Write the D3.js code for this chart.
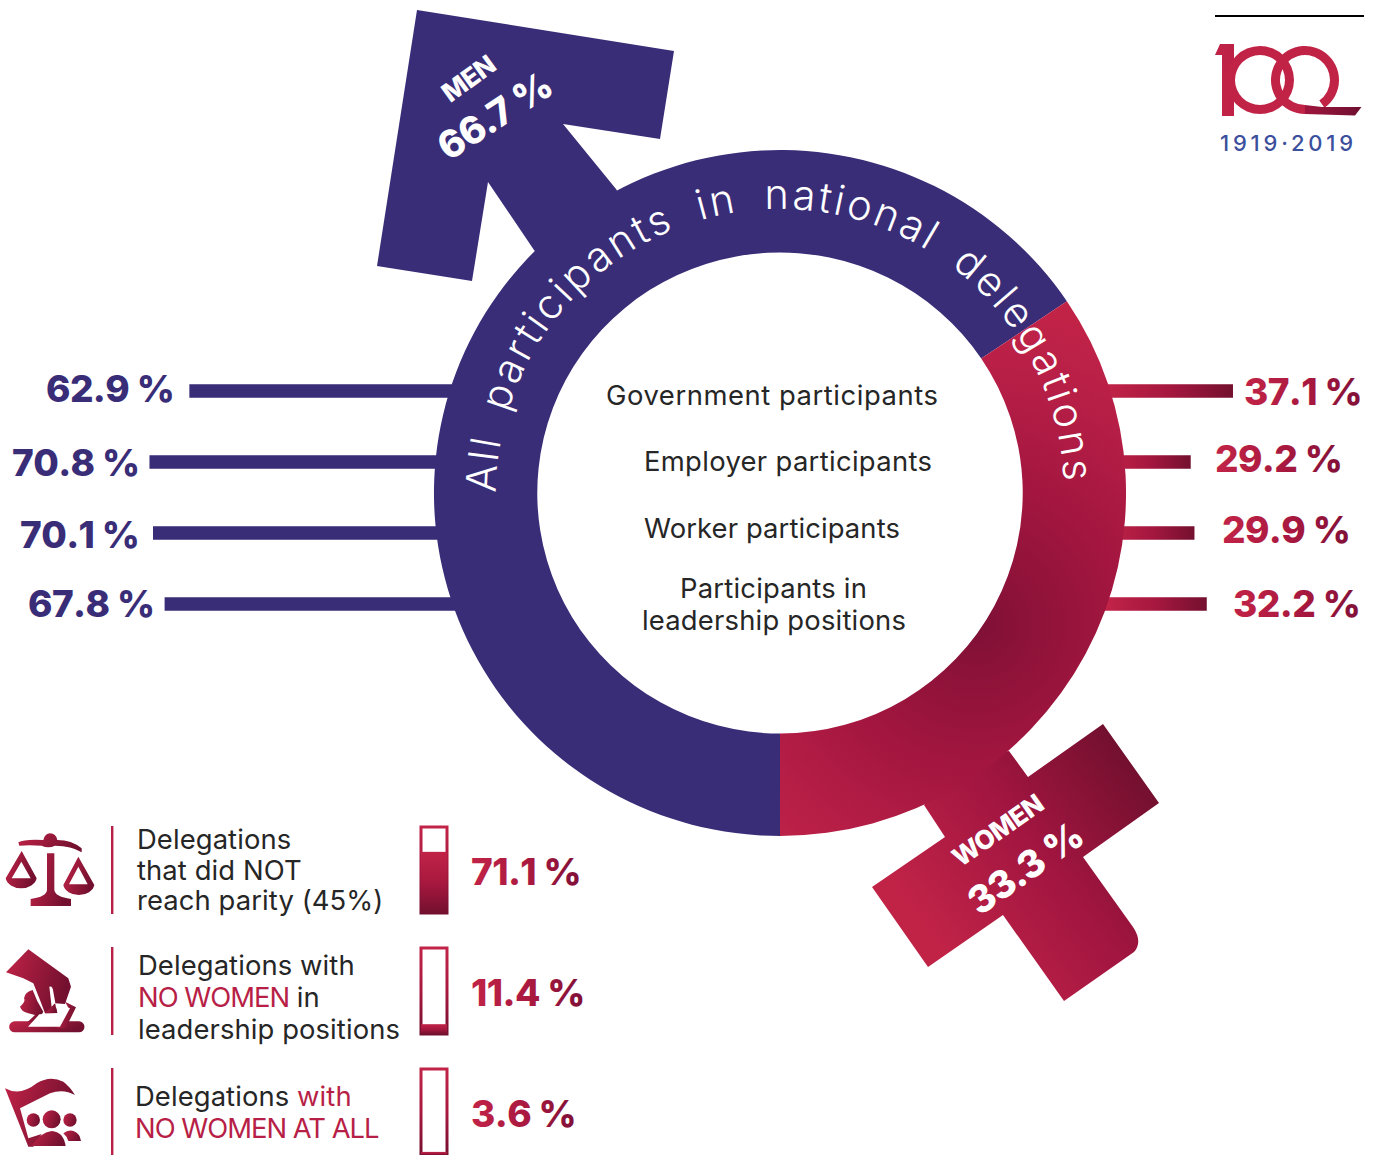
<!DOCTYPE html>
<html>
<head>
<meta charset="utf-8">
<script src="https://cdn.jsdelivr.net/npm/d3@7"></script>
<style>
  html, body { margin: 0; padding: 0; background: #fff; }
  text { font-family: Inter, "Open Sans", sans-serif; }
  .pct { font-weight: 800; font-size: 37px; letter-spacing: -0.6px; font-kerning: none; }
  .lbl { font-size: 27.4px; fill: #262626; letter-spacing: 0.1px; }
</style>
</head>
<body>
<svg id="chart" width="1386" height="1155"></svg>
<script>
// Chart values
const overallLabels = ["MEN", "WOMEN"];
const overallShares = [66.7, 33.3];
const categories = [
  "Government participants",
  "Employer participants",
  "Worker participants",
  "Participants in leadership positions"
];
const menShares = [62.9, 70.8, 70.1, 67.8];
const womenShares = [37.1, 29.2, 29.9, 32.2];
const ringTitle = "All participants in national delegations";
const delegationLabels = ["not parity", "no women leaders", "no women"];
const delegationShares = [71.1, 11.4, 3.6];

// Layout
const navy = "#3a2d78";
const light = "#c12347";
const dark = "#74102f";
const cx = 780, cy = 493, rOuter = 345, rInner = 242;
const rad = (d) => (d * Math.PI) / 180;

const svg = d3.select("#chart");
const defs = svg.append("defs");

function linearGrad(id, x1, y1, x2, y2, stops, units) {
  const g = defs.append("linearGradient").attr("id", id)
    .attr("gradientUnits", units || "userSpaceOnUse")
    .attr("x1", x1).attr("y1", y1).attr("x2", x2).attr("y2", y2);
  stops.forEach((s) => g.append("stop").attr("offset", s[0]).attr("stop-color", s[1]));
}
linearGrad("crossGrad", 925, 930, 1135, 770, [[0, light], [0.55, "#a01540"], [1, dark]]);
linearGrad("textGrad", 0, 0, 1, 0, [[0, light], [0.55, "#a8183f"], [1, "#801038"]], "objectBoundingBox");
linearGrad("iconGrad", 0, 0, 1, 0.3, [[0, light], [1, dark]], "objectBoundingBox");
linearGrad("miniGrad", 0, 0, 0, 1, [[0, light], [0.5, "#a8183f"], [1, dark]], "objectBoundingBox");
linearGrad("logoGrad", 1225, 90, 1360, 70, [[0, light], [0.5, "#a5173f"], [1, "#6b0f30"]]);

const ringGrad = defs.append("radialGradient").attr("id", "ringGrad")
  .attr("gradientUnits", "userSpaceOnUse")
  .attr("cx", 975 - cx).attr("cy", 625 - cy).attr("r", 320);
[[0, "#7e1036"], [0.15, "#8c1239"], [0.45, "#a3163f"], [0.8, "#b81f47"], [1, light]].forEach((s) =>
  ringGrad.append("stop").attr("offset", s[0]).attr("stop-color", s[1]));

// Horizontal bars, they start behind the ring
const rowY = d3.scalePoint().domain(categories).range([391, 604]);
const xMen = d3.scaleLinear().domain([0, 100]).range([507, 2]);
const xWomen = d3.scaleLinear().domain([0, 100]).range([1034.5, 1569.5]);
const barH = 13.5;

svg.selectAll(".men-bar").data(categories).enter().append("rect")
  .attr("class", "men-bar")
  .attr("x", (d, i) => xMen(menShares[i]))
  .attr("y", (d) => rowY(d) - barH / 2)
  .attr("width", (d, i) => xMen(0) - xMen(menShares[i]))
  .attr("height", barH)
  .attr("fill", navy);

categories.forEach((d, i) =>
  linearGrad("wbar" + i, 1108, 0, xWomen(womenShares[i]), 0, [[0, light], [0.5, "#a5173f"], [1, dark]]));

svg.selectAll(".women-bar").data(categories).enter().append("rect")
  .attr("class", "women-bar")
  .attr("x", xWomen(0))
  .attr("y", (d) => rowY(d) - barH / 2)
  .attr("width", (d, i) => xWomen(womenShares[i]) - xWomen(0))
  .attr("height", barH)
  .attr("fill", (d, i) => `url(#wbar${i})`);

// Percent labels next to the bars
const menLabelX = [46, 12, 20, 28];
const menLabelY = [402, 476, 548, 617];
const womenLabelX = [1244, 1215, 1222, 1233];
const womenLabelY = [405, 472, 543, 617];

svg.selectAll(".men-pct").data(menShares).enter().append("text")
  .attr("class", "pct men-pct")
  .attr("x", (d, i) => menLabelX[i])
  .attr("y", (d, i) => menLabelY[i])
  .attr("fill", navy)
  .text((d) => d.toFixed(1) + " %");

svg.selectAll(".women-pct").data(womenShares).enter().append("text")
  .attr("class", "pct women-pct")
  .attr("x", (d, i) => womenLabelX[i])
  .attr("y", (d, i) => womenLabelY[i])
  .attr("fill", "url(#textGrad)")
  .text((d) => d.toFixed(1) + " %");

// Male arrow and female cross
svg.append("path").attr("fill", navy)
  .attr("d", "M417 10L674 51L660 139L563 124L616 189L640 230L560 280L534 250L488 182L472 281L377 266Z");
svg.append("path").attr("fill", "url(#crossGrad)")
  .attr("d", "M1009 751L1028 777L1103 724L1159 803L1083 857L1133 927Q1143 942 1134 952L1064 1001L1003 915L928 967L872 887L945 837L924 805L960 760Z");

// The ring. On the picture the split sits a little past a true 66.7 %,
// so the angle scale has a stop there.
const angle = d3.scaleLinear()
  .domain([0, overallShares[0], 100])
  .range([rad(180), rad(416), rad(540)]);
const arc = d3.arc().innerRadius(rInner).outerRadius(rOuter);
let acc = 0;
const slices = overallShares.map((v) => {
  const s = { startAngle: angle(acc), endAngle: angle(acc + v) };
  acc += v;
  return s;
});
// slightly wider than tall, like the reference
const ring = svg.append("g").attr("transform", `translate(${cx},${cy}) scale(1.003,0.994)`);
ring.selectAll("path").data(slices).enter().append("path")
  .attr("d", arc)
  .attr("fill", (d, i) => (i === 0 ? navy : "url(#ringGrad)"));

// Ring title on a half circle
const rText = 284;
defs.append("path").attr("id", "titleArc")
  .attr("d", `M${cx - rText},${cy} A${rText},${rText} 0 0 1 ${cx + rText},${cy}`);
svg.append("text")
  .attr("fill", "#fff")
  .style("font-size", "41.5px")
  .style("font-weight", 300)
  .style("letter-spacing", "2.8px")
  .style("word-spacing", "11px")
  .append("textPath").attr("href", "#titleArc").attr("startOffset", 0)
  .text(ringTitle);

// Category names inside the ring: text, left edge, baseline, width
const centerLines = [
  ["Government participants", 606, 405, 332],
  ["Employer participants", 644, 471, 288],
  ["Worker participants", 644, 538, 256],
  ["Participants in", 680, 598, 187],
  ["leadership positions", 642, 630, 264]
];
svg.selectAll(".center").data(centerLines).enter().append("text")
  .attr("class", "lbl center")
  .attr("x", (d) => d[1]).attr("y", (d) => d[2])
  .attr("textLength", (d) => d[3])
  .text((d) => d[0]);

// Overall shares on the arrow and cross
function rotated(txt, x, y, a, size) {
  svg.append("text")
    .attr("transform", `translate(${x},${y}) rotate(${a})`)
    .attr("text-anchor", "middle")
    .attr("fill", "#fff")
    .style("font-weight", 800)
    .style("font-size", size + "px")
    .style("letter-spacing", "-0.6px")
    .text(txt);
}
rotated(overallLabels[0], 474, 86, -36, 26);
rotated(overallShares[0].toFixed(1) + " %", 502, 127, -33, 38);
rotated(overallLabels[1], 1003, 838, -35, 26);
rotated(overallShares[1].toFixed(1) + " %", 1033, 879, -35, 38);

// Lower left block: dividers, text lines, small gauges and values
const rowTop = d3.scalePoint().domain(delegationLabels).range([826, 1068]);
const miniH = 86, miniW = 26;
const yMini = d3.scaleLinear().domain([0, 100]).range([miniH, 0]);

const rows = svg.selectAll(".row").data(delegationLabels).enter().append("g")
  .attr("class", "row")
  .attr("transform", (d) => `translate(0,${rowTop(d)})`);

rows.append("rect").attr("x", 111).attr("y", 0).attr("width", 2.4).attr("height", 88).attr("fill", "#b81f47");
rows.append("rect").attr("x", 421).attr("y", 1).attr("width", miniW).attr("height", miniH)
  .attr("fill", "#fff").attr("stroke", "url(#miniGrad)").attr("stroke-width", 3);
rows.append("rect").attr("x", 421)
  .attr("y", (d, i) => 1 + yMini(delegationShares[i]))
  .attr("width", miniW)
  .attr("height", (d, i) => miniH - yMini(delegationShares[i]))
  .attr("fill", "url(#miniGrad)");
rows.append("text").attr("class", "pct")
  .attr("x", 471).attr("y", 59)
  .attr("fill", "url(#textGrad)")
  .text((d, i) => delegationShares[i].toFixed(1) + " %");

const legendLines = [
  [137, 849, [["Delegations", 0]]],
  [137, 880, [["that did NOT", 0]]],
  [137, 910, [["reach parity (45%)", 0]]],
  [138, 975, [["Delegations with", 0]]],
  [138, 1007, [["NO WOMEN", 2], [" in", 0]]],
  [138, 1039, [["leadership positions", 0]]],
  [135, 1106, [["Delegations ", 0], ["with", 1]]],
  [135, 1138, [["NO WOMEN AT ALL", 2]]]
];
legendLines.forEach((l) => {
  const t = svg.append("text").attr("class", "lbl").attr("x", l[0]).attr("y", l[1]);
  l[2].forEach((s) => t.append("tspan")
    .attr("fill", s[1] ? "#b81f47" : "#262626")
    .style("letter-spacing", s[1] === 2 ? "-1px" : null)
    .text(s[0]));
});

// Icons, drawn at 3x and scaled down
const icons = svg.append("g").attr("fill", "url(#iconGrad)");
// scales
const scales = icons.append("g").attr("transform", "translate(0,825) scale(0.3333)");
scales.append("path").attr("d",
  "M55 52Q72 42 130 45Q135 25 150 25Q168 25 172 45Q215 45 245 70L245 82Q215 62 165 62Q145 72 125 62Q85 60 58 62Z");
scales.append("path").attr("d",
  "M141 85L163 85L163 195Q165 215 213 222L213 243L92 243L92 222Q140 215 141 195Z");
scales.append("path").attr("fill-rule", "evenodd").attr("d",
  "M65 78L110 160A47 35 0 0 1 17 160ZM64 110L35 160L92 160Z");
scales.append("path").attr("fill-rule", "evenodd").attr("d",
  "M235 95L283 180A47 35 0 0 1 190 180ZM235 125L207 178L263 178Z");
// hand over ballot box
const hand = icons.append("g").attr("transform", "translate(0,945) scale(0.3333)");
hand.append("path").attr("d",
  "M44 229L237 229A16 16 0 0 1 237 262L44 262A16 16 0 0 1 44 229Z");
hand.append("path").attr("d",
  "M98 135Q75 140 72 160Q78 170 60 185Q65 200 85 205L105 210L82 232L112 232L130 200Q110 170 98 135Z");
hand.append("path").attr("d",
  "M195 170L228 187L197 250L170 250L206 190Z");
hand.append("path").attr("d",
  "M85 13L18 82L70 100L100 115L120 165L135 205L172 204L165 175L195 177L213 125L205 100Z");
hand.append("path").attr("fill", "#fff").attr("d",
  "M148 125Q158 122 160 140L168 185Q164 205 156 196Z");
hand.append("path").attr("fill", "#fff").attr("d",
  "M84 245L118 208L135 207L160 210L172 207L190 183L210 190L180 245Z");
hand.append("path").attr("stroke", "none").attr("d",
  "M135 205L172 204L165 175L150 190Z");
// flag with people
const flag = icons.append("g").attr("transform", "translate(0,1070) scale(0.3333)");
flag.append("path").attr("d",
  "M15 55Q60 80 110 40Q150 15 190 35Q210 50 225 75Q190 55 150 70Q110 90 60 115L85 205L125 192L100 230L85 230Z");
flag.selectAll("circle").data([[100, 150, 20], [155, 148, 27], [210, 150, 20]]).enter().append("circle")
  .attr("cx", (d) => d[0]).attr("cy", (d) => d[1]).attr("r", (d) => d[2]);
flag.append("path").attr("d",
  "M95 228Q120 188 155 183Q190 185 197 228Z");
flag.append("path").attr("d",
  "M190 190Q205 178 220 183Q240 190 243 213L205 213Q200 198 190 190Z");

// Anniversary logo
svg.append("rect").attr("x", 1215).attr("y", 15).attr("width", 149).attr("height", 2).attr("fill", "#000");
const logo = svg.append("g").attr("fill", "url(#logoGrad)");
logo.append("path").attr("d", "M1215 55L1220 44L1234 44L1234 116L1222 116L1222 55Z");
logo.append("path")
  .attr("d", d3.arc().innerRadius(25).outerRadius(34).startAngle(0).endAngle(2 * Math.PI)())
  .attr("transform", "translate(1260,80)");
logo.append("path")
  .attr("d", d3.arc().innerRadius(25).outerRadius(34).startAngle(Math.PI).endAngle(rad(505))())
  .attr("transform", "translate(1305,80)");
logo.append("path").attr("d", "M1305 105L1322 107L1361.500 107L1355 115.500L1305 114Z");
svg.append("text").attr("x", 1220).attr("y", 151)
  .attr("fill", "#3b4f9c")
  .style("font-size", "22px")
  .style("font-weight", 500)
  .style("letter-spacing", "3.8px")
  .text("1919\u00b72019");
</script>
</body>
</html>
